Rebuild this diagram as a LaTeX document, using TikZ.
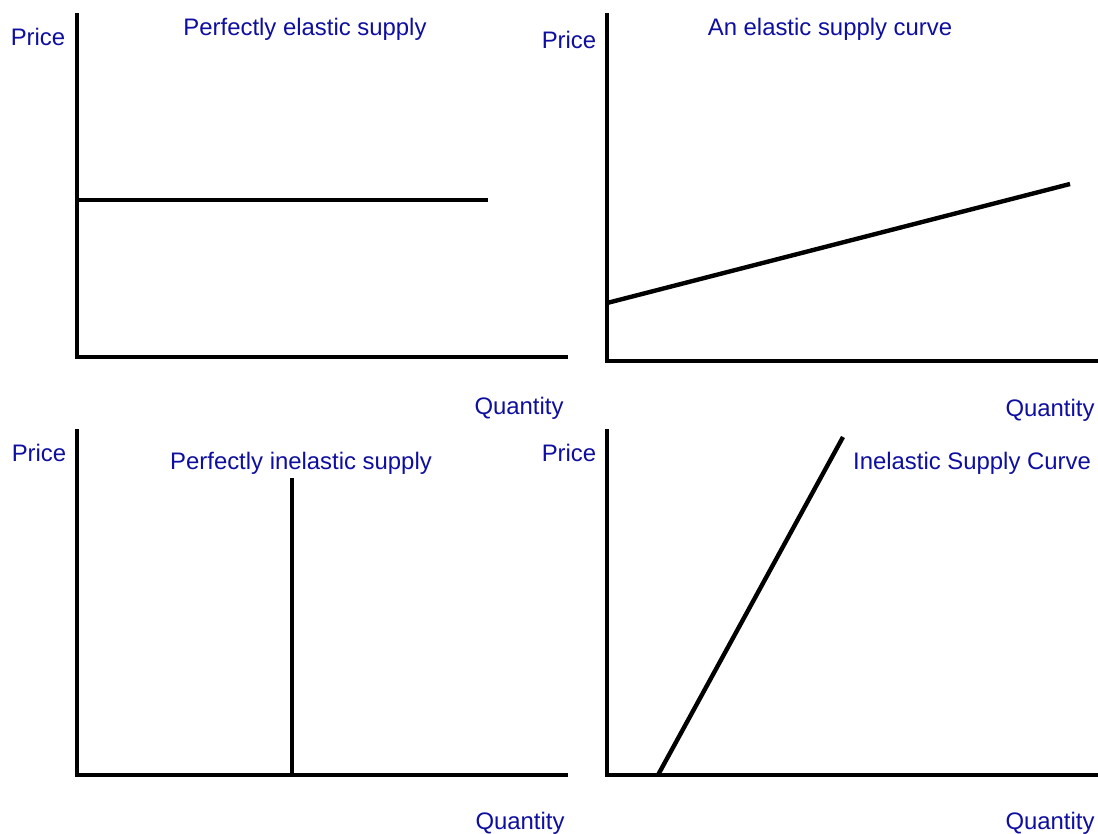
\documentclass[tikz,border=0pt]{standalone}
\usepackage{fontspec}
\setmainfont{Liberation Sans}
\usetikzlibrary{positioning}
\definecolor{lblblue}{RGB}{14,14,160}

\begin{document}
\begin{tikzpicture}[x=0.02cm,y=-0.02cm,every node/.style={font=\fontsize{13.6}{15}\selectfont,text=lblblue,inner sep=1pt},
 ax/.style={line width=2.5pt,line cap=rect},
 crv/.style={line width=2.5pt}]
\useasboundingbox (0,0) rectangle (1098,834);
% panel 1: perfectly elastic
\coordinate (o1) at (77,357); \coordinate (y1) at (77,15); \coordinate (x1) at (566,357);
\draw[ax] (y1)--(o1)--(x1);
\coordinate (s1a) at (77,200); \coordinate (s1b) at (488,200);
\draw[crv] (s1a)--(s1b);
\node (p1) at (38,37) {Price};
\node (t1) at (305,29) {Perfectly elastic supply};
\node (q1) at (519,408) {Quantity};
% panel 2: elastic
\coordinate (o2) at (607,361); \coordinate (y2) at (607,15); \coordinate (x2) at (1096,361);
\draw[ax] (y2)--(o2)--(x2);
\coordinate (s2a) at (607,303); \coordinate (s2b) at (1070,184);
\draw[crv] (s2a)--(s2b);
\node (p2) at (569,40) {Price};
\node (t2) at (830,29) {An elastic supply curve};
\node (q2) at (1050,410) {Quantity};
% panel 3: perfectly inelastic
\coordinate (o3) at (77,775); \coordinate (y3) at (77,431); \coordinate (x3) at (566,775);
\draw[ax] (y3)--(o3)--(x3);
\coordinate (s3a) at (292,478); \coordinate (s3b) at (292,775);
\draw[crv] (s3a)--(s3b);
\node (p3) at (39,453) {Price};
\node (t3) at (301,463) {Perfectly inelastic supply};
\node (q3) at (520,823) {Quantity};
% panel 4: inelastic
\coordinate (o4) at (607,775); \coordinate (y4) at (607,431); \coordinate (x4) at (1096,775);
\draw[ax] (y4)--(o4)--(x4);
\coordinate (s4a) at (658,775); \coordinate (s4b) at (843,437);
\draw[crv] (s4a)--(s4b);
\node (p4) at (569,453) {Price};
\node (t4) at (972,463) {Inelastic Supply Curve};
\node (q4) at (1050,823) {Quantity};
\end{tikzpicture}
\end{document}
